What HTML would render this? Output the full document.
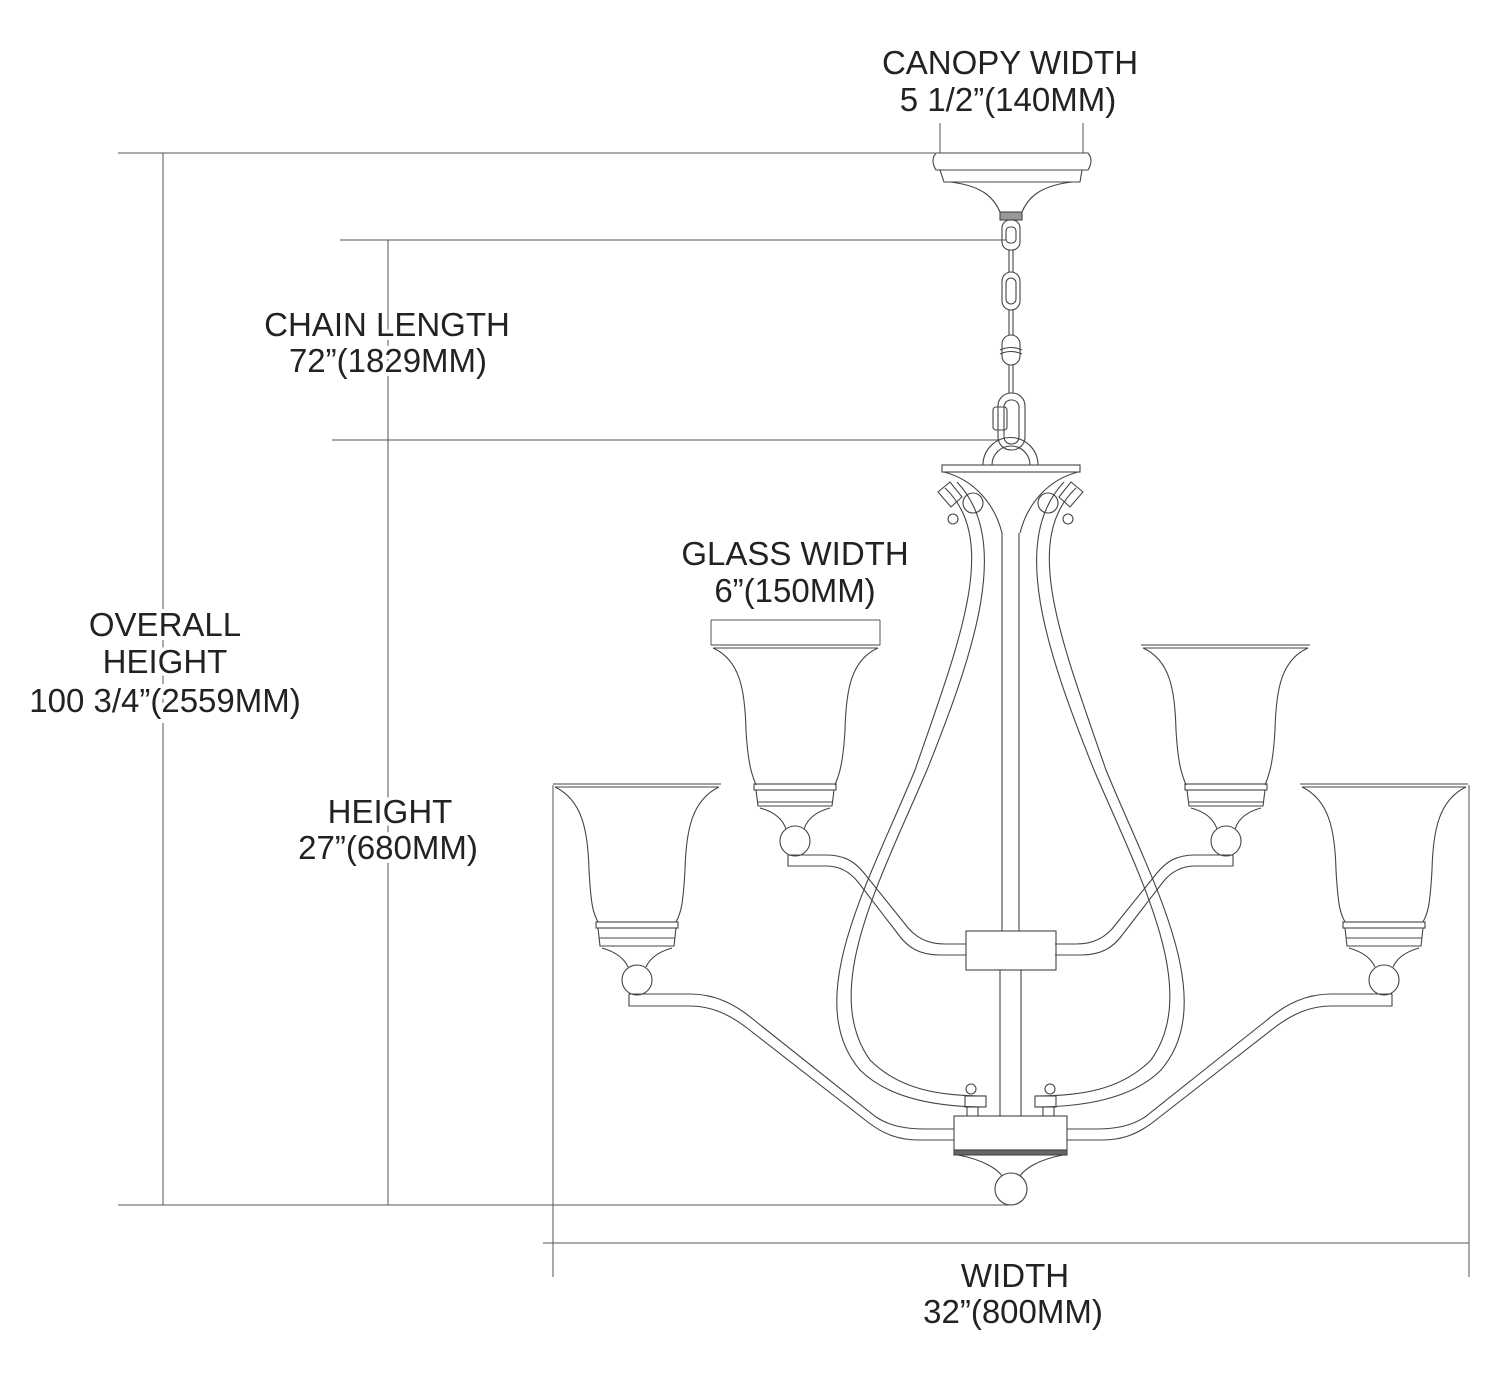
<!DOCTYPE html>
<html><head><meta charset="utf-8"><style>
html,body{margin:0;padding:0;background:#fff}
svg{display:block}
text{font-family:"Liberation Sans",Arial,sans-serif;font-size:33px;fill:#222;text-anchor:middle;paint-order:stroke;stroke:#fff;stroke-width:8px}
.l{fill:none;stroke:#444;stroke-width:1.1}
.d{fill:none;stroke:#555;stroke-width:1}
</style></head><body>
<svg width="1500" height="1382" viewBox="0 0 1500 1382" xmlns="http://www.w3.org/2000/svg">
<g class="d">
<line x1="118" y1="153" x2="935" y2="153"/>
<line x1="163" y1="153" x2="163" y2="1205"/>
<line x1="340" y1="240" x2="1006" y2="240"/>
<line x1="332" y1="440" x2="1000" y2="440"/>
<line x1="388" y1="240" x2="388" y2="1205"/>
<line x1="118" y1="1205" x2="1010" y2="1205"/>
<line x1="940" y1="123" x2="940" y2="153"/>
<line x1="1083" y1="123" x2="1083" y2="153"/>
<line x1="711" y1="620" x2="880" y2="620"/>
<line x1="711" y1="620" x2="711" y2="645"/>
<line x1="880" y1="620" x2="880" y2="645"/>
<line x1="553" y1="785" x2="553" y2="1277"/>
<line x1="1469" y1="785" x2="1469" y2="1277"/>
<line x1="543" y1="1243" x2="1469" y2="1243"/>
</g>

<g class="l">
<path d="M936,153 L1088,153 Q1094,160 1088,170 L936,170 Q930,160 936,153 Z"/>
<path d="M940,170 L1082,170 L1080,182 L944,182 Z"/>
<path d="M950,182 C985,186 995,200 1000,212 L1022,212 C1027,200 1037,186 1072,182"/>
<rect x="1000" y="212" width="22" height="8" fill="#999"/>
<rect x="1002" y="220" width="18" height="30" rx="8"/>
<rect x="1006" y="227" width="10" height="16" rx="4"/>
<line x1="1009" y1="250" x2="1009" y2="272"/><line x1="1013" y1="250" x2="1013" y2="272"/>
<rect x="1002" y="272" width="18" height="38" rx="9"/>
<rect x="1006" y="278" width="10" height="26" rx="5"/>
<line x1="1009" y1="310" x2="1009" y2="335"/><line x1="1013" y1="310" x2="1013" y2="335"/>
<rect x="1002" y="335" width="18" height="30" rx="9"/>
<path d="M1000,350 Q1011,345 1022,350 M1000,354 Q1011,349 1022,354"/>
<line x1="1009" y1="365" x2="1009" y2="393"/><line x1="1013" y1="365" x2="1013" y2="393"/>
<rect x="998" y="393" width="27" height="57" rx="13"/>
<rect x="1004" y="400" width="15" height="44" rx="7"/>
<rect x="993" y="407" width="14" height="23" rx="3"/>
<path d="M983,465 A27,27 0 0 1 1038,465 M992,465 A19,19 0 0 1 1030,465"/>
<rect x="942" y="465" width="138" height="7"/>
<path d="M944,472 C975,480 995,505 1002,533 M1078,472 C1047,480 1027,505 1020,533"/>
</g>

<g class="l">
<line x1="1002" y1="533" x2="1002" y2="931"/><line x1="1019" y1="533" x2="1019" y2="931"/>
<rect x="966" y="931" width="90" height="39"/>
<line x1="1000" y1="970" x2="1000" y2="1116"/><line x1="1021" y1="970" x2="1021" y2="1116"/>
<rect x="954" y="1116" width="113" height="34"/>
<rect x="954" y="1150" width="113" height="5" fill="#666"/>
<path d="M958,1155 C985,1160 998,1170 1002,1176 M1063,1155 C1036,1160 1024,1170 1020,1176"/>
<circle cx="1011" cy="1189" r="16"/>
</g>

<g id="half" class="l">
<path d="M945,488 C1000,540 960,640 915,770 C870,880 800,1000 860,1070 C890,1100 940,1107 986,1107"/>
<path d="M957,482 C1012,540 975,650 927,770 C880,880 820,990 870,1060 C900,1090 940,1096 986,1096"/>
<rect x="965" y="1096" width="21" height="11"/>
<circle cx="971" cy="1089" r="5"/>
<line x1="967" y1="1107" x2="967" y2="1116"/><line x1="978" y1="1107" x2="978" y2="1116"/>
<path d="M938,492 L950,482 L962,497 L951,507 Z"/>
<circle cx="973" cy="503" r="10"/>
<circle cx="953" cy="519" r="5"/>
<path d="M711,645 L880,645 M713,648 L878,648"/>
<path d="M713,648 C740,660 745,690 746,730 C748,765 752,775 756,785 M878,648 C851,660 846,690 845,730 C843,765 839,775 835,785"/>
<rect x="754" y="784" width="82" height="6"/>
<path d="M756,790 L834,790 L832,806 L758,806 Z M758,802 L832,802"/>
<path d="M760,808 C775,812 783,820 786,829 M830,808 C815,812 807,820 804,829"/>
<circle cx="795" cy="841" r="15"/>
<path d="M788,855 L826,855 C845,855 855,862 864,873 L905,924 C915,938 928,944 945,944 L966,944 M788,855 L788,866 L826,866 C840,866 850,872 858,882 L898,934 C908,948 920,955 940,955 L966,955"/>
<path d="M553,784 L721,784 M555,787 L719,787"/>
<path d="M555,787 C582,800 588,830 589,870 C591,905 593,913 598,922 M719,787 C692,800 686,830 685,870 C683,905 681,913 676,922"/>
<rect x="596" y="922" width="82" height="6"/>
<path d="M598,928 L676,928 L674,946 L600,946 Z M599,938 L675,938"/>
<path d="M602,948 C616,952 624,958 628,967 M672,948 C658,952 650,958 646,967"/>
<circle cx="637" cy="980" r="15"/>
<path d="M629,994 L690,994 C715,994 735,1004 754,1020 L876,1117 C890,1126 905,1129 926,1129 L954,1129 M629,994 L629,1006 L690,1006 C712,1006 730,1015 747,1028 L869,1123 C885,1135 900,1140 919,1140 L954,1140"/>
</g>
<use href="#half" transform="translate(2021,0) scale(-1,1)"/>

<text x="1010" y="74">CANOPY WIDTH</text>
<text x="1008" y="111">5 1/2”(140MM)</text>
<text x="387" y="336">CHAIN LENGTH</text>
<text x="388" y="372">72”(1829MM)</text>
<text x="165" y="636">OVERALL</text>
<text x="165" y="673">HEIGHT</text>
<text x="165" y="712">100 3/4”(2559MM)</text>
<text x="795" y="565">GLASS WIDTH</text>
<text x="795" y="602">6”(150MM)</text>
<text x="390" y="823">HEIGHT</text>
<text x="388" y="859">27”(680MM)</text>
<text x="1015" y="1287">WIDTH</text>
<text x="1013" y="1323">32”(800MM)</text>
</svg>
</body></html>
